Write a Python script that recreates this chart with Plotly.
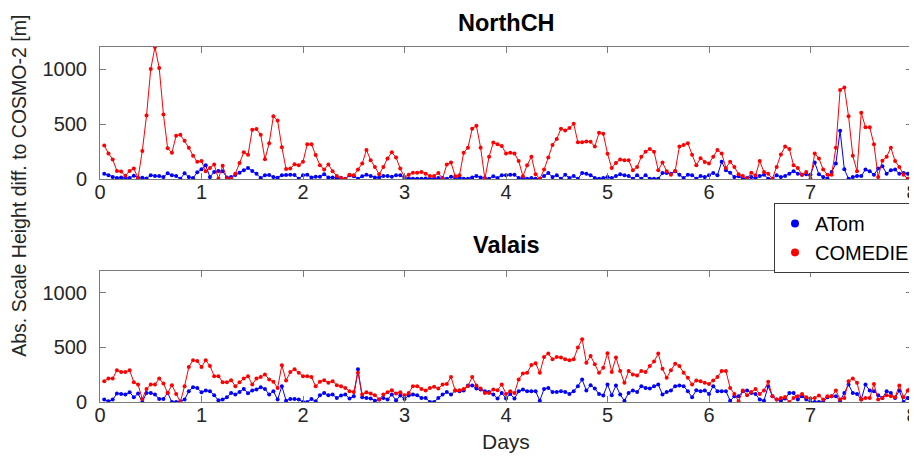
import plotly.graph_objects as go
from plotly.subplots import make_subplots

# hourly samples over 8 days
hour_index = list(range(1, 193))
days = [h / 24 for h in hour_index]

northch_atom = [
    49, 34, 18, 9, 15, 9, 9, 31, 12, 12, 6, 34, 28, 28, 18, 52, 34, 28, 3, 52, 18, 9, 61, 89, 126, 18, 64, 74, 71, 15,
    18, 37, 58, 80, 101, 74, 49, 9, 34, 37, 18, 12, 34, 37, 40, 37, 3, 34,
    40, 15, 21, 21, 43, 15, 15, 9, 9, 3, 34, 25, 3, 25, 40, 28, 15, 15, 28, 28, 21, 34, 34, 9,
    6, 3, 3, 3, 6, 3, 6, 9,
    9, 3, 21, 3, 15, 3, 3, 15, 28, 15, 9, 3, 25, 9, 34, 34,
    40, 40, 9, 9, 3, 9, 3, 3, 28, 55, 18, 34, 3, 40, 9, 28, 3, 55, 49, 34, 9, 3, 9, 18, 9, 28, 43, 34, 28, 3,
    34, 3, 34, 3, 3, 3, 55, 55, 49, 71, 40, 9, 40, 34, 3, 28,
    18, 34, 55, 34, 157, 80, 58, 18, 25, 3, 9, 18, 9, 28, 40, 3, 3, 34, 18, 28, 49, 71, 49, 40, 43, 40, 150, 43,
    18, 3, 64, 141, 439, 89, 3, 18, 28, 28, 86, 71, 40, 95, 117, 49, 80, 86, 49, 55, 49, 34,
]

northch_comedie = [
    304, 233, 178, 74, 68, 31, 74, 95, 9, 255, 577, 1000, 1200, 1010, 586, 279, 240, 393, 402, 347, 285, 212, 157, 163,
    71, 101, 132, 3, 120, 3, 3, 49, 147, 243, 221, 448, 454, 402, 181, 325, 571, 531, 289, 92, 95, 135, 126, 157, 316,
    316, 218, 126, 86, 132, 71, 28, 9, 0, 40, 34, 86, 141, 264, 172, 110, 43, 110, 187, 243, 196, 95, 18, 40, 58, 58,
    64, 49, 28, 28, 55, 3, 132, 150, 25, 34, 240, 285, 457, 485, 285, 3, 203, 332, 316, 301, 233,
    240, 233, 163, 25, 126, 203, 43, 3, 86, 196, 310, 365, 457, 442, 463, 503, 334, 334, 341, 338, 295, 421, 411, 230,
    101, 147, 178, 172, 172, 80, 110, 203, 249, 273, 249, 80, 150, 71, 40, 74, 295, 310, 326, 221, 126, 190,
    156, 141, 203, 264, 233, 101, 157, 110, 43, 28, 3, 58, 34, 163, 64, 49, 3, 110, 224, 295, 273, 126, 101, 40, 64, 3,
    233, 187, 86, 40, 40, 285, 810, 832, 571, 212, 71, 603, 470, 470, 316, 18, 166, 203, 285, 163, 110, 40, 3, 58,
]

valais_atom = [
    22, 6, 22, 77, 74, 68, 89, 43, 77, 0, 83, 83, 68, 28, 28, 83, 0, 0, 6, 22, 99, 136, 129, 89, 105, 99, 62, 15, 22, 43,
    83, 68, 92, 120, 80, 105, 114, 136, 120, 68, 99, 22, 145, 12, 28, 28, 22, 0,
    0, 28, 6, 62, 83, 62, 68, 37, 59, 68, 31, 52, 299, 43, 37, 31, 12, 22, 37, 22, 68, 15, 59, 28, 59, 68, 62, 37, 37, 0,
    0, 37, 68, 92, 68, 105, 99, 105, 151, 151, 123, 114, 99, 92, 68, 31, 83,
    31, 74, 31, 99, 114, 99, 99, 99, 12, 120, 129, 92, 92, 99, 92, 74, 99, 145, 206, 105, 154, 123, 74, 59, 160, 62, 151,
    68, 12, 83, 105, 92, 145, 129, 123, 145, 160, 68, 92, 105, 145, 151, 145, 99, 43, 108, 99,
    105, 74, 145, 99, 99, 99, 12, 52, 52, 99, 105, 83, 74, 22, 12, 145, 52, 22, 12, 31, 83, 83, 22, 52, 22, 0, 0, 0, 0,
    43, 52, 52, 12, 83, 160, 83, 74, 22, 160, 105, 99, 62, 37, 99, 83, 37, 105, 0, 37, 83,
]

valais_comedie = [
    191, 216, 216, 290, 274, 274, 290, 182, 160, 28, 120, 160, 160, 216, 169, 83, 154, 74, 0, 145, 320, 382, 376, 320,
    382, 330, 237, 237, 182, 182, 200, 145, 182, 216, 237, 160, 216, 228, 253, 206, 185, 129, 336, 197, 274, 299, 268, 237,
    237, 228, 145, 185, 200, 176, 191, 154, 145, 129, 99, 92, 268, 68, 89, 77, 62, 22, 68, 89, 108, 77, 89, 62, 83, 145,
    145, 120, 105, 129, 139, 123, 160, 166, 228, 105, 108, 120, 145, 228, 151, 123, 83, 83, 114, 108, 160,
    74, 99, 83, 206, 262, 268, 339, 354, 268, 413, 444, 391, 413, 407, 391, 382, 391, 499, 576, 360, 422, 345, 268, 314,
    447, 274, 407, 283, 176, 283, 253, 243, 283, 274, 330, 370, 444, 305, 222, 290, 351, 330, 268, 222, 160, 197, 191,
    176, 166, 197, 228, 283, 283, 129, 74, 6, 105, 62, 92, 120, 74, 105, 185, 52, 22, 37, 46, 0, 37, 52, 74, 43, 31, 37,
    59, 22, 52, 52, 105, 22, 37, 191, 216, 176, 22, 37, 37, 166, 22, 37, 62, 52, 43, 151, 43, 105, 185,
]

panel_titles = ["NorthCH", "Valais"]
series_names = ["ATom", "COMEDIE"]
series_colors = ["#0000ff", "#ff0000"]
x_ticks = [0, 1, 2, 3, 4, 5, 6, 7, 8]
y_ticks = [0, 500, 1000]

FONT = "Liberation Sans, Arial, Helvetica, sans-serif"
AX = "#7a7a7a"
TXT = "#262626"

fig = make_subplots(rows=2, cols=1, vertical_spacing=0.0)

panels = [(northch_atom, northch_comedie), (valais_atom, valais_comedie)]
for r, (a, c) in enumerate(panels, start=1):
    for vals, col in zip((a, c), series_colors):
        fig.add_trace(go.Scatter(
            x=days, y=vals, mode="lines+markers",
            line=dict(color=col, width=1),
            marker=dict(color=col, size=4),
            showlegend=False, hoverinfo="skip",
        ), row=r, col=1)

# legend-only entries (marker only)
for name, col in zip(series_names, series_colors):
    fig.add_trace(go.Scatter(
        x=[None], y=[None], mode="markers", name=name,
        marker=dict(color=col, size=8),
    ), row=1, col=1)

axis_common = dict(
    showline=True, mirror="ticks", linecolor=AX, linewidth=1,
    ticks="inside", ticklen=6, tickcolor=AX, tickwidth=1,
    showgrid=False, zeroline=False,
    tickfont=dict(family=FONT, size=20, color=TXT),
)
for ax in ("xaxis", "xaxis2"):
    fig.layout[ax].update(range=[0, 8], tickvals=x_ticks, ticklabelstandoff=-5, **axis_common)
for ax in ("yaxis", "yaxis2"):
    fig.layout[ax].update(range=[0, 1200], tickvals=y_ticks, ticklabelstandoff=8, **axis_common)

fig.layout.yaxis.domain = [0.628, 1.0]
fig.layout.yaxis2.domain = [0.0, 0.369]

annotations = [
    dict(text="<b>" + panel_titles[0] + "</b>", x=0.5, y=1.0676, xref="paper", yref="paper",
         showarrow=False, font=dict(family=FONT, size=23.5, color="#000000"), xanchor="center", yanchor="middle"),
    dict(text="<b>" + panel_titles[1] + "</b>", x=0.5, y=0.4423, xref="paper", yref="paper",
         showarrow=False, font=dict(family=FONT, size=23.5, color="#000000"), xanchor="center", yanchor="middle"),
    dict(text="Abs. Scale Height diff. to COSMO-2 [m]", x=-0.099, y=0.608, xref="paper", yref="paper",
         showarrow=False, textangle=-90, font=dict(family=FONT, size=19.5, color=TXT),
         xanchor="center", yanchor="middle"),
    dict(text="Days", x=0.5, y=-0.11, xref="paper", yref="paper",
         showarrow=False, font=dict(family=FONT, size=21, color=TXT), xanchor="center", yanchor="middle"),
]

fig.update_layout(
    width=917, height=460,
    margin=dict(l=92, r=7, t=39, b=66),
    paper_bgcolor="white", plot_bgcolor="white",
    annotations=annotations,
    legend=dict(
        x=1.0037, y=0.5606, xanchor="right", yanchor="top",
        bgcolor="white", bordercolor="#3a3a3a", borderwidth=1,
        font=dict(family=FONT, size=20, color="#000000"),
        tracegroupgap=0,
    ),
)

fig.write_html("out.html")
